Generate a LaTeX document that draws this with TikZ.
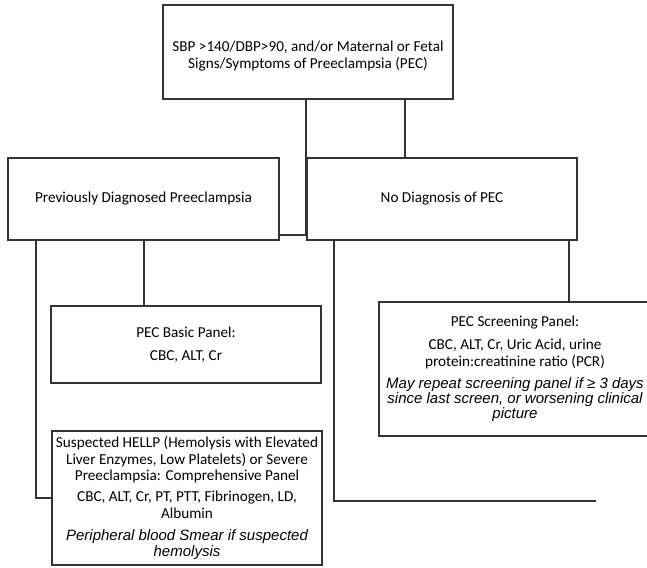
\documentclass[tikz,border=0pt]{standalone}
\usepackage{fontspec}
\setmainfont{Carlito}
\newfontfamily\helvit{Liberation Sans}[ItalicFont={Liberation Sans Italic}]
\usepackage{tikz}
\tikzset{
    stepbox/.style = {
        align=center,
        inner sep=0pt,
        rectangle,
        draw=black!80,
        line width=1.6pt,
        font=\fontsize{15.2}{16.8}\selectfont
    },
    link/.style = {
        draw=black!80,
        line width=1.6pt
    }
}
\newcommand{\note}[1]{{\helvit\itshape\fontsize{15}{16}\selectfont #1}}

\begin{document}
\begin{tikzpicture}[x=1pt,y=-1pt]
    \useasboundingbox (0,0) rectangle (647,567);
    \node [stepbox, minimum width=290pt, minimum height=94pt] (top) at (308,52)
        {\rule{0pt}{19pt}SBP >140/DBP>90, and/or Maternal or Fetal\\ Signs/Symptoms of Preeclampsia (PEC)};
    \node [stepbox, minimum width=271pt, minimum height=82pt] (left) at (143.5,199)
        {Previously Diagnosed Preeclampsia};
    \node [stepbox, minimum width=270pt, minimum height=82pt] (right) at (442,199)
        {No Diagnosis of PEC};
    \node [stepbox, minimum width=270pt, minimum height=77pt] (basic) at (186,344.5)
        {PEC Basic Panel:\\[6pt] CBC, ALT, Cr};
    \node [stepbox, minimum width=272pt, minimum height=134pt] (screen) at (515,369)
        {PEC Screening Panel:\\[6pt] CBC, ALT, Cr, Uric Acid, urine\\ protein:creatinine ratio (PCR)\\[5pt]
         \note{May repeat screening panel if ≥ 3 days}\\[-1.5pt] \note{since last screen, or worsening clinical}\\[-1.5pt] \note{picture}};
    \node [stepbox, minimum width=270pt, minimum height=134pt] (hellp) at (187,498)
        {Suspected HELLP (Hemolysis with Elevated\\ Liver Enzymes, Low Platelets) or Severe\\ Preeclampsia: Comprehensive Panel\\[4pt]
         CBC, ALT, Cr, PT, PTT, Fibrinogen, LD,\\ Albumin\\[5pt]
         \note{Peripheral blood Smear if suspected}\\[-0.5pt] \note{hemolysis}};
    \coordinate (open) at (596,501);
    % connectors
    \draw [link] (top.south -| right.west) |- ([yshift=6pt]left.south east);
    \draw [link] (top.south -| 405,0) -- (right.north -| 405,0);
    \draw [link] (left.south -| 144,0) -- (basic.north -| 144,0);
    \draw [link] (left.south -| 36,0) |- (hellp.west);
    \draw [link] (right.south -| 569,0) -- (screen.north -| 569,0);
    \draw [link] (right.south -| 334,0) |- (open);
\end{tikzpicture}
\end{document}
